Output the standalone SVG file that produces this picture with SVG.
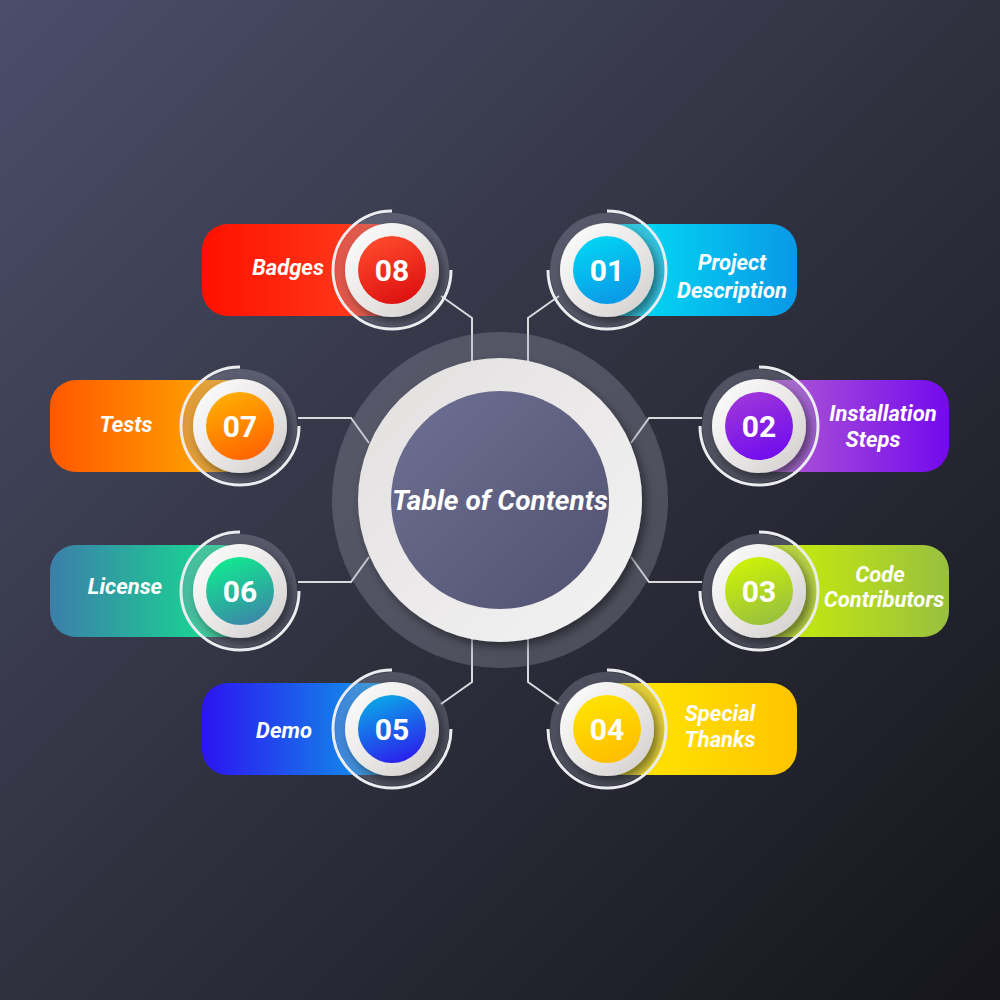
<svg xmlns="http://www.w3.org/2000/svg" width="1000" height="1000" viewBox="0 0 1000 1000">
<defs>
<linearGradient id="bg" x1="0" y1="0" x2="1" y2="1">
<stop offset="0" stop-color="#4b4e6a"/>
<stop offset="0.5" stop-color="#30313f"/>
<stop offset="1" stop-color="#15151b"/>
</linearGradient>
<linearGradient id="ring" x1="0" y1="0" x2="1" y2="1">
<stop offset="0" stop-color="#ffffff"/>
<stop offset="0.6" stop-color="#e6e4e3"/>
<stop offset="1" stop-color="#cfccca"/>
</linearGradient>
<linearGradient id="bigring" x1="0" y1="0" x2="1" y2="1">
<stop offset="0" stop-color="#e2e0df"/>
<stop offset="1" stop-color="#f4f3f3"/>
</linearGradient>
<linearGradient id="core" x1="0" y1="0" x2="1" y2="1">
<stop offset="0" stop-color="#6e7094"/>
<stop offset="1" stop-color="#515270"/>
</linearGradient>
<linearGradient id="p1" x1="0" y1="0" x2="1" y2="0"><stop offset="0" stop-color="#00e8f6"/><stop offset="1" stop-color="#0a98e6"/></linearGradient>
<linearGradient id="c1" x1="0" y1="0" x2="0.4" y2="1"><stop offset="0" stop-color="#00dcf4"/><stop offset="1" stop-color="#0a9ce8"/></linearGradient>
<linearGradient id="p2" x1="0" y1="0" x2="1" y2="0"><stop offset="0" stop-color="#b663d0"/><stop offset="1" stop-color="#7409ee"/></linearGradient>
<linearGradient id="c2" x1="0" y1="0" x2="0.4" y2="1"><stop offset="0" stop-color="#a43ad8"/><stop offset="1" stop-color="#7410ec"/></linearGradient>
<linearGradient id="p3" x1="0" y1="0" x2="1" y2="0"><stop offset="0" stop-color="#d2f400"/><stop offset="1" stop-color="#98c040"/></linearGradient>
<linearGradient id="c3" x1="0" y1="0" x2="0.4" y2="1"><stop offset="0" stop-color="#d4f800"/><stop offset="1" stop-color="#9cc43a"/></linearGradient>
<linearGradient id="p4" x1="0" y1="0" x2="1" y2="0"><stop offset="0" stop-color="#ffec00"/><stop offset="1" stop-color="#ffc400"/></linearGradient>
<linearGradient id="c4" x1="0" y1="0" x2="0.4" y2="1"><stop offset="0" stop-color="#ffe800"/><stop offset="1" stop-color="#ffc000"/></linearGradient>
<linearGradient id="p5" x1="0" y1="0" x2="1" y2="0"><stop offset="0" stop-color="#2c14f2"/><stop offset="1" stop-color="#0ca8e6"/></linearGradient>
<linearGradient id="c5" x1="0.3" y1="0" x2="0.7" y2="1"><stop offset="0" stop-color="#0aa8e8"/><stop offset="1" stop-color="#2c1cec"/></linearGradient>
<linearGradient id="p6" x1="0" y1="0" x2="1" y2="0"><stop offset="0" stop-color="#3c7eaa"/><stop offset="1" stop-color="#10ec8c"/></linearGradient>
<linearGradient id="c6" x1="0.3" y1="0" x2="0.7" y2="1"><stop offset="0" stop-color="#10ea90"/><stop offset="1" stop-color="#3c86a8"/></linearGradient>
<linearGradient id="p7" x1="0" y1="0" x2="1" y2="0"><stop offset="0" stop-color="#ff5800"/><stop offset="1" stop-color="#ffb400"/></linearGradient>
<linearGradient id="c7" x1="0.3" y1="0" x2="0.7" y2="1"><stop offset="0" stop-color="#ffae00"/><stop offset="1" stop-color="#ff6200"/></linearGradient>
<linearGradient id="p8" x1="0" y1="0" x2="1" y2="0"><stop offset="0" stop-color="#ff1000"/><stop offset="1" stop-color="#ff4424"/></linearGradient>
<linearGradient id="c8" x1="0.3" y1="0" x2="0.7" y2="1"><stop offset="0" stop-color="#ff4a2c"/><stop offset="1" stop-color="#dc1010"/></linearGradient>
<filter id="sh" x="-40%" y="-40%" width="180%" height="180%">
<feDropShadow dx="4" dy="5" stdDeviation="5" flood-color="#000" flood-opacity="0.45"/>
</filter>
</defs>
<style>
.halo{fill:#a0a2b4;fill-opacity:0.32}
.wr{fill:url(#ring);filter:url(#sh)}
.arc{fill:none;stroke:#ececf0;stroke-width:3}
.con{fill:none;stroke:#d9d9de;stroke-width:2}
.num{font-family:Roboto,"Liberation Sans",sans-serif;font-weight:700;font-size:30px;fill:#fff;text-anchor:middle}
.lbl{font-family:Roboto,"Liberation Sans",sans-serif;font-weight:700;font-style:italic;font-size:22px;fill:#fff;text-anchor:middle}
</style>
<rect width="1000" height="1000" fill="url(#bg)"/>

<g id="connectors">
<path class="con" d="M441 296 L472 318 L472 361"/>
<path class="con" d="M559 296 L528 318 L528 361"/>
<path class="con" d="M298 418 L351 418 L369 443"/>
<path class="con" d="M702 418 L649 418 L631 443"/>
<path class="con" d="M298 582 L351 582 L369 557"/>
<path class="con" d="M702 582 L649 582 L631 557"/>
<path class="con" d="M441 704 L472 682 L472 639"/>
<path class="con" d="M559 704 L528 682 L528 639"/>
</g>

<g id="center">
<circle cx="500" cy="500" r="168" fill="#a0a2b4" fill-opacity="0.3"/>
<circle cx="500" cy="500" r="142" fill="url(#bigring)" filter="url(#sh)"/>
<circle cx="500" cy="500" r="109" fill="url(#core)"/>
<text x="500" y="510" font-family="Roboto,'Liberation Sans',sans-serif" font-weight="700" font-style="italic" font-size="28" fill="#fff" text-anchor="middle">Table of Contents</text>
</g>

<g id="node01">
<rect x="597" y="224" width="200" height="92" rx="26" fill="url(#p1)"/>
<circle class="halo" cx="607" cy="270" r="57"/>
<circle class="wr" cx="607" cy="270" r="47"/>
<circle cx="607" cy="270" r="34" fill="url(#c1)"/>
<path class="arc" d="M607 211 A59 59 0 1 1 548 270"/>
<text class="num" x="607" y="281">01</text>
<text class="lbl" x="732" y="270">Project</text>
<text class="lbl" x="732" y="298">Description</text>
</g>

<g id="node02">
<rect x="749" y="380" width="200" height="92" rx="26" fill="url(#p2)"/>
<circle class="halo" cx="759" cy="426" r="57"/>
<circle class="wr" cx="759" cy="426" r="47"/>
<circle cx="759" cy="426" r="34" fill="url(#c2)"/>
<path class="arc" d="M759 367 A59 59 0 1 1 700 426"/>
<text class="num" x="759" y="437">02</text>
<text class="lbl" x="883" y="421">Installation</text>
<text class="lbl" x="873" y="447">Steps</text>
</g>

<g id="node03">
<rect x="749" y="545" width="200" height="92" rx="26" fill="url(#p3)"/>
<circle class="halo" cx="759" cy="591" r="57"/>
<circle class="wr" cx="759" cy="591" r="47"/>
<circle cx="759" cy="591" r="34" fill="url(#c3)"/>
<path class="arc" d="M759 532 A59 59 0 1 1 700 591"/>
<text class="num" x="759" y="602">03</text>
<text class="lbl" x="880" y="582">Code</text>
<text class="lbl" x="884" y="607">Contributors</text>
</g>

<g id="node04">
<rect x="597" y="683" width="200" height="92" rx="26" fill="url(#p4)"/>
<circle class="halo" cx="607" cy="729" r="57"/>
<circle class="wr" cx="607" cy="729" r="47"/>
<circle cx="607" cy="729" r="34" fill="url(#c4)"/>
<path class="arc" d="M607 670 A59 59 0 1 1 548 729"/>
<text class="num" x="607" y="740">04</text>
<text class="lbl" x="720" y="721">Special</text>
<text class="lbl" x="720" y="747">Thanks</text>
</g>

<g id="node05">
<rect x="202" y="683" width="200" height="92" rx="26" fill="url(#p5)"/>
<circle class="halo" cx="392" cy="729" r="57"/>
<circle class="wr" cx="392" cy="729" r="47"/>
<circle cx="392" cy="729" r="34" fill="url(#c5)"/>
<path class="arc" d="M392 670 A59 59 0 1 0 451 729"/>
<text class="num" x="392" y="740">05</text>
<text class="lbl" x="284" y="738">Demo</text>
</g>

<g id="node06">
<rect x="50" y="545" width="200" height="92" rx="26" fill="url(#p6)"/>
<circle class="halo" cx="240" cy="591" r="57"/>
<circle class="wr" cx="240" cy="591" r="47"/>
<circle cx="240" cy="591" r="34" fill="url(#c6)"/>
<path class="arc" d="M240 532 A59 59 0 1 0 299 591"/>
<text class="num" x="240" y="602">06</text>
<text class="lbl" x="125" y="594">License</text>
</g>

<g id="node07">
<rect x="50" y="380" width="200" height="92" rx="26" fill="url(#p7)"/>
<circle class="halo" cx="240" cy="426" r="57"/>
<circle class="wr" cx="240" cy="426" r="47"/>
<circle cx="240" cy="426" r="34" fill="url(#c7)"/>
<path class="arc" d="M240 367 A59 59 0 1 0 299 426"/>
<text class="num" x="240" y="437">07</text>
<text class="lbl" x="126" y="432">Tests</text>
</g>

<g id="node08">
<rect x="202" y="224" width="200" height="92" rx="26" fill="url(#p8)"/>
<circle class="halo" cx="392" cy="270" r="57"/>
<circle class="wr" cx="392" cy="270" r="47"/>
<circle cx="392" cy="270" r="34" fill="url(#c8)"/>
<path class="arc" d="M392 211 A59 59 0 1 0 451 270"/>
<text class="num" x="392" y="281">08</text>
<text class="lbl" x="288" y="275">Badges</text>
</g>
</svg>
